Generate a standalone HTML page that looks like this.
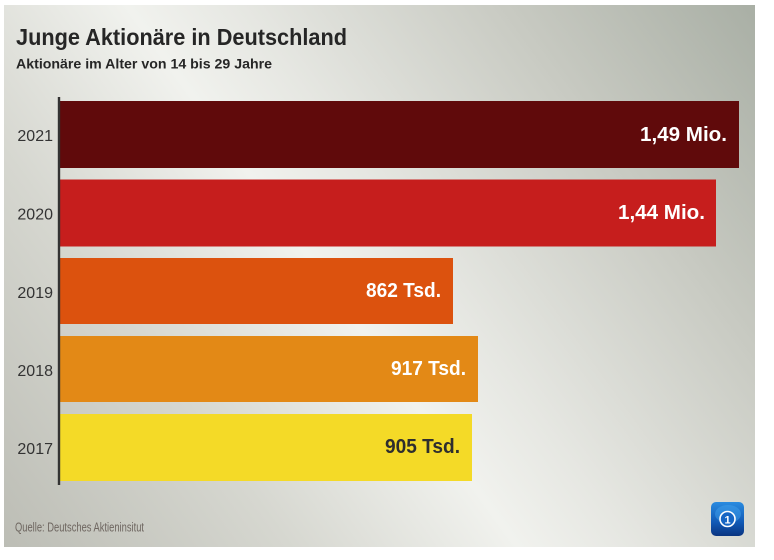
<!DOCTYPE html>
<html>
<head>
<meta charset="utf-8">
<style>
  html,body{margin:0;padding:0;background:#fff;}
  body{width:774px;height:560px;overflow:hidden;}
  svg{display:block;}
  text{font-family:"Liberation Sans",Arial,sans-serif;}
</style>
</head>
<body>
<svg width="774" height="560" viewBox="0 0 774 560" xmlns="http://www.w3.org/2000/svg">
  <defs>
    <linearGradient id="bg" x1="755" y1="5" x2="4" y2="547" gradientUnits="userSpaceOnUse">
      <stop offset="0" stop-color="#a9afa5"/>
      <stop offset="0.22" stop-color="#c8cac2"/>
      <stop offset="0.45" stop-color="#e6e7e2"/>
      <stop offset="0.55" stop-color="#f1f2ee"/>
      <stop offset="0.75" stop-color="#d6d7d0"/>
      <stop offset="1" stop-color="#bcbdb5"/>
    </linearGradient>
    <linearGradient id="ic" x1="0" y1="0" x2="0" y2="1">
      <stop offset="0" stop-color="#2a8be0"/>
      <stop offset="0.6" stop-color="#1159b5"/>
      <stop offset="1" stop-color="#0a3480"/>
    </linearGradient>
  </defs>

  <rect x="4" y="5" width="751" height="542" fill="url(#bg)"/>

  <!-- Title -->
  <text x="16" y="45" font-size="23" font-weight="bold" fill="#262626" textLength="331" lengthAdjust="spacingAndGlyphs">Junge Aktionäre in Deutschland</text>
  <text x="16" y="68.5" font-size="13.5" font-weight="bold" fill="#262626" textLength="256" lengthAdjust="spacingAndGlyphs">Aktionäre im Alter von 14 bis 29 Jahre</text>

  <!-- Bars -->
  <rect x="60" y="101" width="679" height="67" fill="#600a0b"/>
  <rect x="60" y="179.5" width="656" height="67" fill="#c61e1d"/>
  <rect x="60" y="258" width="393" height="66" fill="#dc520e"/>
  <rect x="60" y="336" width="418" height="66" fill="#e38916"/>
  <rect x="60" y="414" width="412" height="67" fill="#f4da27"/>

  <!-- Axis line -->
  <rect x="57.8" y="97" width="2.4" height="388" fill="#333333"/>

  <!-- Year labels -->
  <g font-size="16" fill="#333" text-anchor="end">
    <text x="53" y="141">2021</text>
    <text x="53" y="219.5">2020</text>
    <text x="53" y="298">2019</text>
    <text x="53" y="376">2018</text>
    <text x="53" y="454">2017</text>
  </g>

  <!-- Value labels -->
  <g font-size="20" font-weight="bold" text-anchor="end">
    <text x="727" y="141" fill="#ffffff" textLength="87" lengthAdjust="spacingAndGlyphs">1,49 Mio.</text>
    <text x="705" y="219" fill="#ffffff" textLength="87" lengthAdjust="spacingAndGlyphs">1,44 Mio.</text>
    <text x="441" y="297" fill="#ffffff" textLength="75" lengthAdjust="spacingAndGlyphs">862 Tsd.</text>
    <text x="466" y="375" fill="#ffffff" textLength="75" lengthAdjust="spacingAndGlyphs">917 Tsd.</text>
    <text x="460" y="453" fill="#2e2e2e" textLength="75" lengthAdjust="spacingAndGlyphs">905 Tsd.</text>
  </g>

  <!-- Source -->
  <text x="15" y="531.7" font-size="13" fill="#6e6660" textLength="129" lengthAdjust="spacingAndGlyphs">Quelle: Deutsches Aktieninsitut</text>

  <!-- Logo icon -->
  <rect x="711" y="502" width="33" height="34" rx="5" ry="5" fill="url(#ic)"/>
  <ellipse cx="728" cy="514" rx="13" ry="9" fill="#3fa0ec" opacity="0.5"/>
  <circle cx="727.5" cy="519" r="7.5" fill="#1766c4" stroke="#ffffff" stroke-width="1.6"/>
  <text x="727.5" y="523.5" font-size="11" font-weight="bold" fill="#ffffff" text-anchor="middle">1</text>
</svg>
</body>
</html>
